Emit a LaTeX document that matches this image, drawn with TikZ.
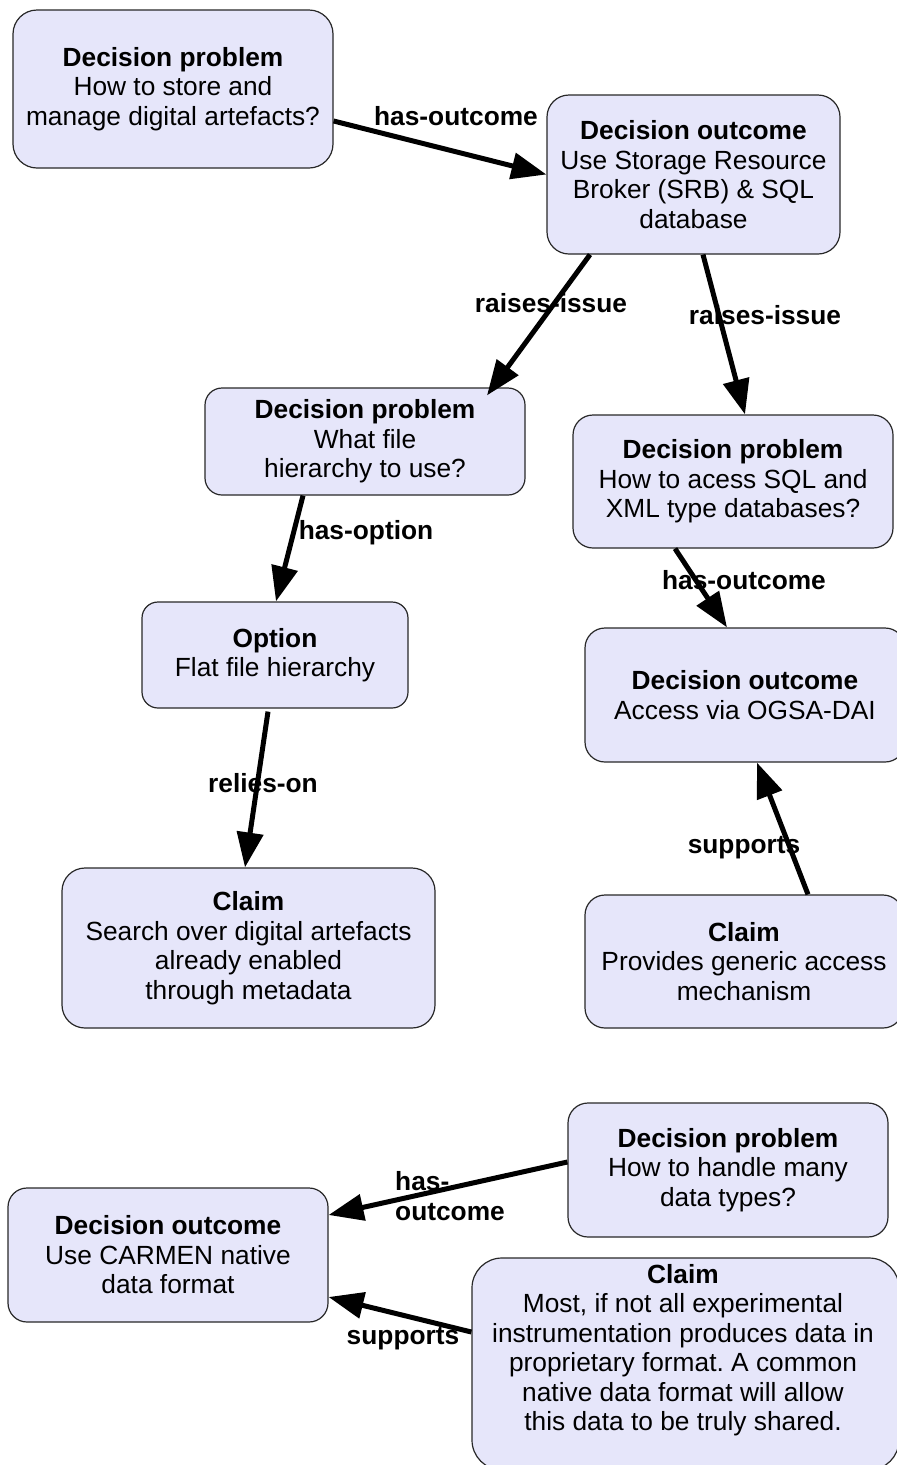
\documentclass[tikz,border=0pt]{standalone}
\usepackage{fontspec}
\setmainfont{Liberation Sans}
\usetikzlibrary{arrows.meta}
\definecolor{boxfill}{RGB}{230,230,250}
\definecolor{boxline}{RGB}{40,40,40}
\frenchspacing
\begin{document}
\begin{tikzpicture}[x=1pt,y=-1pt,
  box/.style={draw=boxline, line width=1.2pt, fill=boxfill, align=center,
    inner sep=0pt, font=\fontsize{26.3}{29.5}\selectfont},
  txt/.style={align=center, inner sep=0pt, font=\fontsize{26.3}{29.5}\selectfont},
  link/.style={line width=5pt, -{Triangle[length=35pt,width=26pt]}},
  lbl/.style={font=\fontsize{26.3}{29.5}\selectfont\bfseries, inner sep=0pt}]
\useasboundingbox (0,0) rectangle (897,1465);
\clip (0,0) rectangle (897,1465);

% decision boxes
\node[box, rounded corners=24pt, minimum width=320pt, minimum height=158pt] (dp1) at (173,89)
  {\textbf{Decision problem}\\How to store and\\manage digital artefacts?};
\node[box, rounded corners=22pt, minimum width=293pt, minimum height=159pt] (do1) at (693.5,174.5)
  {\textbf{Decision outcome}\\Use Storage Resource\\Broker (SRB) \& SQL\\database};
\node[box, rounded corners=17pt, minimum width=320pt, minimum height=107pt] (dp2) at (365,441.5)
  {\textbf{Decision problem}\\What file\\hierarchy to use?};
\node[box, rounded corners=20pt, minimum width=320pt, minimum height=133pt] (dp3) at (733,481.5)
  {\textbf{Decision problem}\\How to acess SQL and\\XML type databases?};
\node[box, rounded corners=16pt, minimum width=266pt, minimum height=106pt] (opt) at (275,655)
  {\textbf{Option}\\Flat file hierarchy};
\node[box, rounded corners=20pt, minimum width=320pt, minimum height=134pt] (do2) at (745,695)
  {\textbf{Decision outcome}\\Access via OGSA-DAI};
\node[box, rounded corners=23pt, minimum width=373pt, minimum height=160pt] (cl1) at (248.5,948)
  {\textbf{Claim}\\Search over digital artefacts\\already enabled\\through metadata};
\node[box, rounded corners=20pt, minimum width=318pt, minimum height=133pt] (cl2) at (744,961.5)
  {\textbf{Claim}\\Provides generic access\\mechanism};
\node[box, rounded corners=20pt, minimum width=320pt, minimum height=134pt] (dp4) at (728,1170)
  {\textbf{Decision problem}\\How to handle many\\data types?};
\node[box, rounded corners=19pt, minimum width=320pt, minimum height=134pt] (do3) at (168,1255)
  {\textbf{Decision outcome}\\Use CARMEN native\\data format};
\node[box, rounded corners=30pt, minimum width=427pt, minimum height=212pt] (cl3) at (685.5,1364) {};
\node[txt] (cl3t) at (683,1350)
  {\textbf{Claim}\\Most, if not all experimental\\instrumentation produces data in\\proprietary format. A common\\native data format will allow\\this data to be truly shared.};

% relations
\draw[link] ([yshift=-32pt]dp1.east) -- (do1.west);
\draw[link] ([xshift=-103.5pt]do1.south) -- ([xshift=122pt,yshift=-8pt]dp2.north);
\draw[link] ([xshift=9.5pt]do1.south) -- ([xshift=12pt]dp3.north);
\draw[link] ([xshift=-62pt]dp2.south) -- ([xshift=1pt]opt.north);
\draw[link] ([xshift=-58pt]dp3.south) -- ([xshift=-18pt]do2.north);
\draw[link] ([xshift=-7pt,yshift=-3pt]opt.south) -- ([xshift=-3.5pt]cl1.north);
\draw[link] ([xshift=64pt]cl2.north) -- ([xshift=12pt]do2.south);
\draw[link] ([yshift=8pt]dp4.west) -- ([yshift=40pt]do3.east);
\draw[link] ([yshift=32pt]cl3.west) -- ([yshift=-42pt]do3.east);

% relation labels
\node[lbl] (l1) at (456,116) {has-outcome};
\node[lbl] (l2) at (551,303) {raises-issue};
\node[lbl] (l3) at (765,315) {raises-issue};
\node[lbl] (l4) at (366,533) {has-option};
\node[lbl] (l5) at (744,580) {has-outcome};
\node[lbl] (l6) at (263,783) {relies-on};
\node[lbl] (l7) at (744,848) {supports};
\node[lbl, align=left] (l8) at (450,1196) {has-\\outcome};
\node[lbl] (l9) at (403,1339) {supports};
\end{tikzpicture}
\end{document}
